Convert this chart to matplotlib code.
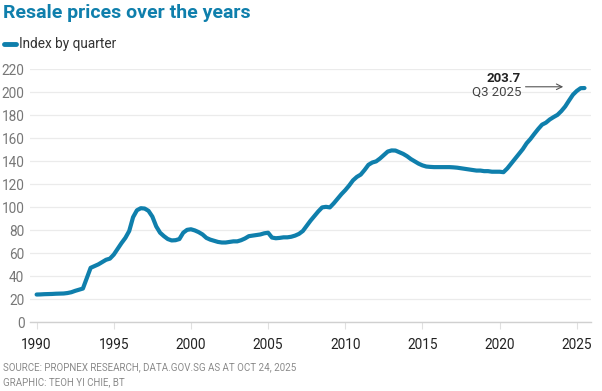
import numpy as np
import matplotlib.pyplot as plt

# HDB resale price index, quarterly, 1990 Q1 - 2025 Q3
start_year = 1990
index_values = [
    24.3, 24.4, 24.6, 24.7,      # 1990
    24.8, 25.0, 25.1, 25.2,      # 1991
    25.6, 26.3, 27.5, 28.5,      # 1992
    29.5, 38.5, 47.5, 49.0,      # 1993
    50.5, 52.5, 54.5, 55.5,      # 1994
    59.0, 64.0, 69.0, 73.5,      # 1995
    79.5, 91.5, 97.5, 99.3,      # 1996
    99.0, 97.0, 92.0, 83.5,      # 1997
    78.0, 75.0, 72.5, 71.3,      # 1998
    71.5, 72.5, 78.0, 80.5,      # 1999
    81.0, 80.0, 78.5, 76.5,      # 2000
    73.5, 72.0, 71.0, 70.0,      # 2001
    69.5, 69.5, 70.0, 70.5,      # 2002
    70.5, 71.5, 73.0, 75.0,      # 2003
    75.5, 76.0, 76.5, 77.5,      # 2004
    78.0, 73.8, 73.2, 73.5,      # 2005
    74.0, 74.0, 74.5, 75.5,      # 2006
    77.0, 79.5, 84.0, 88.5,      # 2007
    92.5, 96.5, 100.0, 100.5,    # 2008
    100.0, 103.5, 107.5, 111.5,  # 2009
    115.0, 119.0, 123.5, 126.5,  # 2010
    128.5, 132.5, 137.0, 139.0,  # 2011
    140.0, 142.5, 145.5, 148.5,  # 2012
    149.5, 149.4, 148.0, 146.5,  # 2013
    144.5, 142.0, 140.0, 138.0,  # 2014
    136.5, 135.5, 135.2, 135.0,  # 2015
    135.0, 135.0, 135.0, 135.0,  # 2016
    134.8, 134.5, 134.0, 133.5,  # 2017
    133.0, 132.5, 132.0, 132.0,  # 2018
    131.5, 131.5, 131.0, 131.0,  # 2019
    131.0, 130.6, 133.9, 138.1,  # 2020
    142.2, 146.4, 150.6, 155.7,  # 2021
    159.5, 163.9, 168.1, 171.9,  # 2022
    173.6, 176.4, 178.5, 180.4,  # 2023
    183.7, 187.7, 192.9, 197.9,  # 2024
    201.2, 203.6, 203.7,         # 2025
]
x_ticks = [1990, 1995, 2000, 2005, 2010, 2015, 2020, 2025]
y_ticks = list(range(0, 221, 20))

quarters = start_year + np.arange(len(index_values)) / 4

blue = "#0f7fac"
plt.rcParams['font.family'] = ['Roboto', 'DejaVu Sans']

fig = plt.figure(figsize=(6.02, 3.91), dpi=100)
ax = fig.add_axes([0.0498, 0.1752, 0.9319, 0.6476])

ax.plot(quarters, index_values, color=blue, lw=3.0, solid_capstyle='round',
        solid_joinstyle='round', clip_on=False, zorder=3)

ax.set_xlim(1989.57, 2025.92)
ax.set_ylim(0, 220)
ax.set_yticks(y_ticks)
ax.set_xticks(x_ticks)
ax.grid(axis='y', color='#ebebeb', lw=0.9)
ax.set_axisbelow(True)
for s in ['top', 'right', 'left']:
    ax.spines[s].set_visible(False)
ax.spines['bottom'].set_color('#d0d0d0')
ax.spines['bottom'].set_linewidth(1.0)
ax.tick_params(axis='y', length=0, pad=4, labelsize=9.8, labelcolor='#777777')
ax.tick_params(axis='x', length=5, width=0.8, color='#e0e0e0', pad=6,
               labelsize=9.8, labelcolor='#222222')

# annotation of the latest value
ax.text(2021.39, 211.7, "203.7", ha='right', va='center', fontsize=9.5,
        fontweight='bold', color='#222222')
ax.text(2021.39, 200.4, "Q3 2025", ha='right', va='center', fontsize=9.5,
        color='#444444')
ax.annotate("", xy=(2024.3, 204.8), xytext=(2021.5, 204.8),
            arrowprops=dict(arrowstyle='->', color='#555555', lw=0.8))

fig.text(0.005, 0.968, "Resale prices over the years", ha='left', va='center',
         fontsize=14, fontweight='bold', color=blue)
fig.lines.append(plt.Line2D([0.007, 0.026], [0.887, 0.887], transform=fig.transFigure,
                            color=blue, lw=3.5, solid_capstyle='round'))
fig.text(0.032, 0.888, "Index by quarter", ha='left', va='center', fontsize=9.8,
         color='#333333')

fig.text(0.005, 0.061, "SOURCE: PROPNEX RESEARCH, DATA.GOV.SG AS AT OCT 24, 2025",
         ha='left', va='center', fontsize=7, color='#8a8a8a')
fig.text(0.005, 0.022, "GRAPHIC: TEOH YI CHIE, BT", ha='left', va='center',
         fontsize=7, color='#8a8a8a')

fig.savefig("out.png", dpi=100)
